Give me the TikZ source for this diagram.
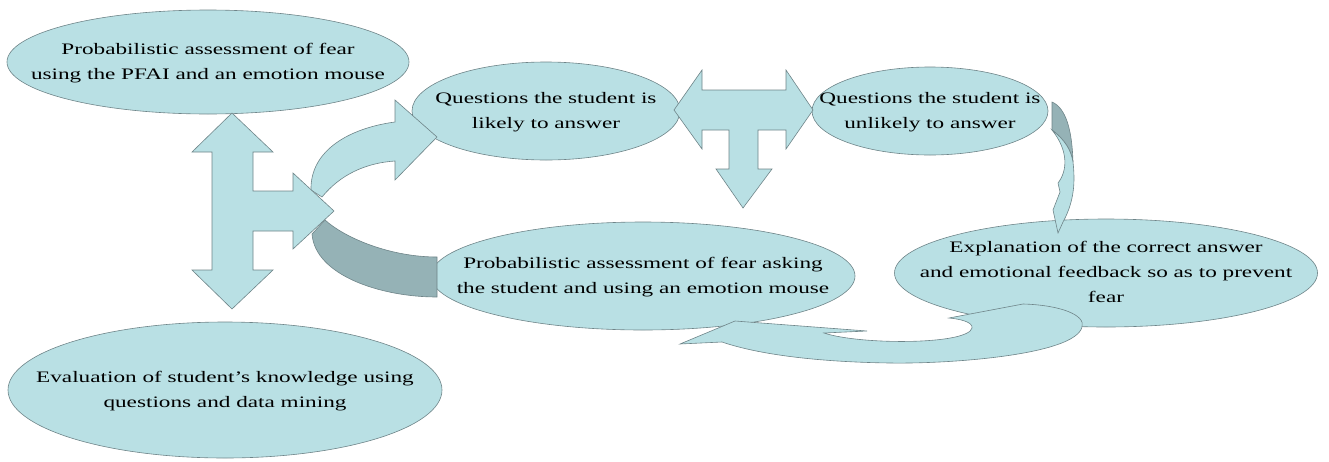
\documentclass[tikz,border=0pt]{standalone}
\usepackage{fontspec}
\setmainfont{Liberation Serif}
\usepackage{graphicx}
\usetikzlibrary{shapes.geometric}
\definecolor{paleblue}{RGB}{185,224,228}
\definecolor{darkteal}{RGB}{149,178,182}
\definecolor{edgegray}{RGB}{110,132,136}
% the text is stretched sideways and takes no room, so the ellipse keeps its own size
\newcommand{\widetext}[1]{\makebox[0pt]{\raisebox{-4pt}[0pt][0pt]{\scalebox{1.45}[1]{\begin{tabular}{@{}c@{}}#1\end{tabular}}}}}
\tikzset{
x=1pt, y=-1pt, % one unit is one pixel of the original, y downwards
every node/.style={font=\fontsize{16}{25}\selectfont}, % sets the text size
bubble/.style={ellipse, draw=edgegray, fill=paleblue, line width=0.6pt, inner sep=0pt}, % the ellipses
blockarrow/.style={draw=edgegray, fill=paleblue, line width=0.6pt, line join=miter}, % the wide arrows
darkband/.style={draw=edgegray, fill=darkteal, line width=0.6pt}, % the shaded side of a bent arrow
}
\renewcommand{\arraystretch}{1}
\begin{document}
\begin{tikzpicture}
        \useasboundingbox (0,0) rectangle (1329,461);

        \node[bubble, minimum width=402, minimum height=104] (pfai) at (208,62) {\widetext{Probabilistic assessment of fear\\using the PFAI and an emotion mouse}};
        \node[bubble, minimum width=268, minimum height=98] (likely) at (546,111) {\widetext{Questions the student is\\likely to answer}};
        \node[bubble, minimum width=236, minimum height=88] (unlikely) at (930,111) {\widetext{Questions the student is\\unlikely to answer}};
        \node[bubble, minimum width=424, minimum height=108] (asking) at (643,276) {\widetext{Probabilistic assessment of fear asking\\the student and using an emotion mouse}};
        \node[bubble, minimum width=423, minimum height=108] (explain) at (1106,273) {\widetext{Explanation of the correct answer\\and emotional feedback so as to prevent\\fear}};
        \node[bubble, minimum width=434, minimum height=136] (evaluation) at (225,390) {\widetext{Evaluation of student’s knowledge using\\questions and data mining}};

        % bent arrows
        \draw[blockarrow] (311,190) .. controls (310,150) and (350,128) .. (395,122) -- (395,100) -- (437,137) -- (395,180) -- (395,161) .. controls (365,163) and (340,175) .. (322,197) -- cycle;
        \draw[darkband] (325,220) .. controls (345,238) and (390,257) .. (437,257) -- (437,297) .. controls (380,297) and (315,275) .. (312,234) -- cycle;
        \draw[darkband] (1052,102) -- (1052,130) .. controls (1065,140) and (1071,150) .. (1073,162) .. controls (1072,130) and (1066,108) .. (1052,102) -- cycle;
        \draw[blockarrow] (1052,130) .. controls (1068,150) and (1068,170) .. (1058,183) -- (1060,192) -- (1053,210) -- (1058,233) -- (1063,222) .. controls (1075,200) and (1075,180) .. (1073,162) .. controls (1071,150) and (1065,140) .. (1052,130) -- cycle;
        \draw[blockarrow] (680,344) -- (735,321) -- (867,331) -- (824,333) .. controls (860,345) and (968,345) .. (972,328) .. controls (973,322) and (960,319) .. (949,318) -- (1023,304) .. controls (1060,305) and (1086,315) .. (1082,327) .. controls (1075,355) and (950,364) .. (890,363) .. controls (820,362) and (760,355) .. (722,342) -- cycle;

        % straight arrows
        \draw[blockarrow] (232,113) -- (273,152) -- (253,152) -- (253,191) -- (293,191) -- (293,173) -- (334,211) -- (293,249) -- (293,231) -- (253,231) -- (253,270) -- (273,270) -- (232,309) -- (192,270) -- (212,270) -- (212,152) -- (192,152) -- cycle;
        \draw[blockarrow] (674,110) -- (702,70) -- (702,90) -- (786,90) -- (786,70) -- (813,110) -- (786,149) -- (786,130) -- (758,130) -- (758,169) -- (772,169) -- (743,208) -- (716,169) -- (729,169) -- (729,130) -- (702,130) -- (702,149) -- cycle;
    \end{tikzpicture}
\end{document}
